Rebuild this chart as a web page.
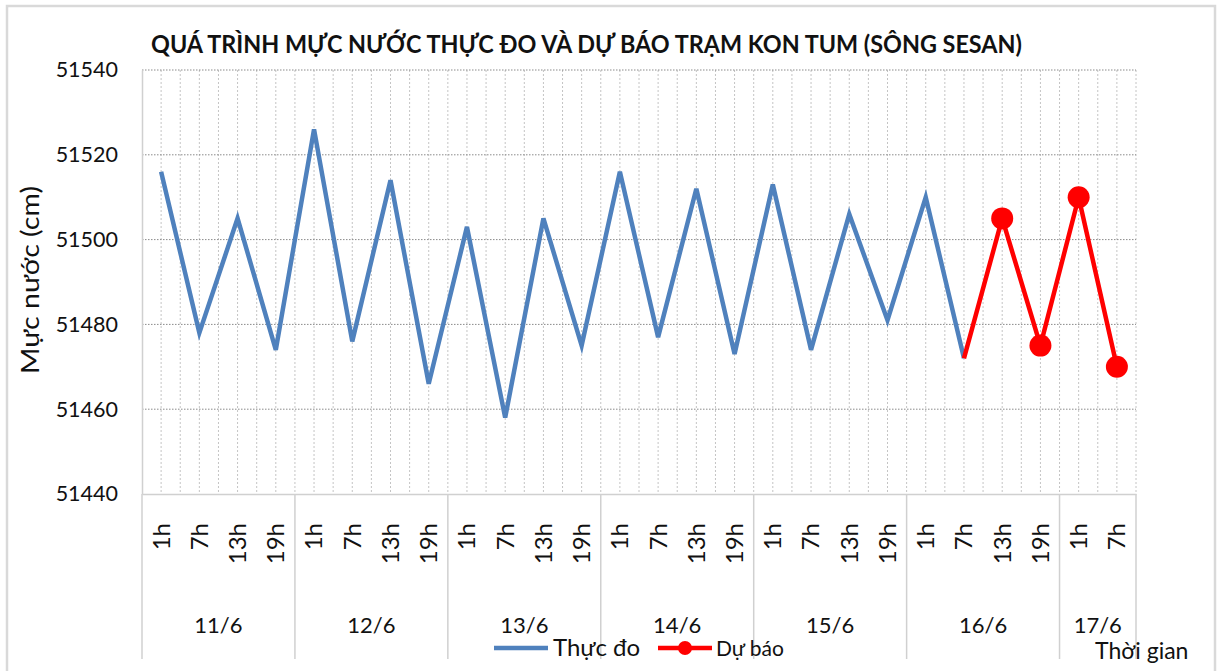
<!DOCTYPE html>
<html>
<head>
<meta charset="utf-8">
<script src="https://cdn.jsdelivr.net/npm/d3@7"></script>
<style>
  body { margin: 0; background: #fff; }
  text { font-family: Lato, 'Open Sans', sans-serif; fill: #111; }
</style>
</head>
<body>
<div id="chart"></div>
<script>
// categories
let dayLabels = ['11/6', '12/6', '13/6', '14/6', '15/6', '16/6', '17/6']
let hoursPerDay = [4, 4, 4, 4, 4, 4, 2]
let hourLabels = ['1h', '7h', '13h', '19h']

// values (cm)
let observed = [
  51516, 51478, 51505, 51474,
  51526, 51476, 51514, 51466,
  51503, 51458, 51505, 51475,
  51516, 51477, 51512, 51473,
  51513, 51474, 51506, 51481,
  51510, 51472
]
let forecastStart = 21
let forecast = [51472, 51505, 51475, 51510, 51470]

let yTicks = [51440, 51460, 51480, 51500, 51520, 51540]

let margin = { top: 70, left: 142, right: 83, bottom: 177 }
let width = 1219 - margin.left - margin.right
let height = 671 - margin.top - margin.bottom

let categories = []
dayLabels.forEach((day, i) => {
  for (let h = 0; h < hoursPerDay[i]; h++) {
    categories.push({ day: day, hour: hourLabels[h], i: categories.length })
  }
})

let obsPoints = observed.map((v, i) => ({ i: i, value: v }))
let fcPoints = forecast.map((v, i) => ({ i: forecastStart + i, value: v }))

let root = d3
  .select('#chart')
  .append('svg')
  .attr('width', 1219)
  .attr('height', 671)

// outer frame
root
  .append('rect')
  .attr('x', 7)
  .attr('y', 6)
  .attr('width', 1208)
  .attr('height', 700)
  .attr('fill', '#fff')
  .attr('stroke', '#d9d9d9')
  .attr('stroke-width', 2.5)

root
  .append('text')
  .attr('x', 151)
  .attr('y', 53)
  .attr('font-size', 25)
  .attr('font-weight', 'bold')
  .attr('textLength', 871)
  .attr('lengthAdjust', 'spacingAndGlyphs')
  .text('QUÁ TRÌNH MỰC NƯỚC THỰC ĐO VÀ DỰ BÁO TRẠM KON TUM (SÔNG SESAN)')

let svg = root
  .append('g')
  .attr('transform', 'translate(' + margin.left + ',' + margin.top + ')')

let xPositionScale = d3
  .scaleBand()
  .domain(categories.map(d => d.i))
  .range([0, width])
  .padding(0)

let yPositionScale = d3
  .scaleLinear()
  .domain([51440, 51540])
  .range([height, 0])

let bw = xPositionScale.bandwidth()
let cx = i => xPositionScale(i) + bw / 2

// vertical gridlines at every half category
let halfSteps = d3.range(1, categories.length * 2 + 1)
svg
  .selectAll('.v-grid')
  .data(halfSteps)
  .enter()
  .append('line')
  .attr('class', 'v-grid')
  .attr('x1', d => (d * bw) / 2)
  .attr('x2', d => (d * bw) / 2)
  .attr('y1', 0)
  .attr('y2', height)
  .attr('stroke', '#c4c4c4')
  .attr('stroke-width', 1)
  .attr('stroke-dasharray', '2,2')

// horizontal gridlines
svg
  .selectAll('.h-grid')
  .data(yTicks.slice(1))
  .enter()
  .append('line')
  .attr('class', 'h-grid')
  .attr('x1', 0)
  .attr('x2', width)
  .attr('y1', d => yPositionScale(d))
  .attr('y2', d => yPositionScale(d))
  .attr('stroke', '#8a8a8a')
  .attr('stroke-width', 1)
  .attr('stroke-dasharray', '1.5,1.5')

// y axis
let yAxis = d3
  .axisLeft(yPositionScale)
  .tickValues(yTicks)
  .tickSize(0)
  .tickPadding(24)
  .tickFormat(d3.format('d'))
svg
  .append('g')
  .attr('class', 'axis y-axis')
  .call(yAxis)
  .call(g => g.select('.domain').attr('stroke', '#d0d0d0').attr('stroke-width', 1.5))
  .call(g =>
    g
      .selectAll('text')
      .attr('font-size', 21.5)
      .attr('font-family', 'Lato')
      .attr('fill', '#111')
  )

// x axis (hours)
let xAxis = d3
  .axisBottom(xPositionScale)
  .tickSize(0)
  .tickFormat(i => categories[i].hour)
svg
  .append('g')
  .attr('class', 'axis x-axis')
  .attr('transform', 'translate(0,' + height + ')')
  .call(xAxis)
  .call(g => g.select('.domain').attr('stroke', '#d0d0d0').attr('stroke-width', 1.5))
  .call(g =>
    g
      .selectAll('text')
      .attr('font-size', 24)
      .attr('font-family', 'Lato')
      .attr('fill', '#111')
      .attr('text-anchor', 'end')
      .attr('transform', 'rotate(-90)')
      .attr('x', -29)
      .attr('y', 0)
      .attr('dy', '0.35em')
  )

// day groups
let dayStarts = []
let acc = 0
hoursPerDay.forEach(n => {
  dayStarts.push(acc)
  acc += n
})

svg
  .selectAll('.day-sep')
  .data(dayStarts.concat([categories.length]))
  .enter()
  .append('line')
  .attr('class', 'day-sep')
  .attr('x1', d => d * bw)
  .attr('x2', d => d * bw)
  .attr('y1', height)
  .attr('y2', 659 - margin.top)
  .attr('stroke', '#d0d0d0')
  .attr('stroke-width', 1.5)

svg
  .selectAll('.day-label')
  .data(dayLabels)
  .enter()
  .append('text')
  .attr('class', 'day-label')
  .attr('x', (d, i) => (dayStarts[i] + hoursPerDay[i] / 2) * bw)
  .attr('y', 633 - margin.top)
  .attr('text-anchor', 'middle')
  .attr('font-size', 22)
  .text(d => d)

// lines
let line = d3
  .line()
  .x(d => cx(d.i))
  .y(d => yPositionScale(d.value))

svg
  .append('path')
  .datum(obsPoints)
  .attr('d', line)
  .attr('fill', 'none')
  .attr('stroke', '#4f81bd')
  .attr('stroke-width', 4.5)
  .attr('stroke-linejoin', 'miter')

svg
  .append('path')
  .datum(fcPoints)
  .attr('d', line)
  .attr('fill', 'none')
  .attr('stroke', '#ff0000')
  .attr('stroke-width', 4.5)

svg
  .selectAll('.fc-dot')
  .data(fcPoints.slice(1))
  .enter()
  .append('circle')
  .attr('class', 'fc-dot')
  .attr('cx', d => cx(d.i))
  .attr('cy', d => yPositionScale(d.value))
  .attr('r', 11)
  .attr('fill', '#ff0000')

// y axis title
root
  .append('text')
  .attr('transform', 'translate(39,280) rotate(-90)')
  .attr('text-anchor', 'middle')
  .attr('font-size', 25)
  .attr('textLength', 188)
  .attr('lengthAdjust', 'spacingAndGlyphs')
  .attr('fill', '#222')
  .text('Mực nước (cm)')

// legend
let legend = root.append('g')
legend
  .append('line')
  .attr('x1', 494)
  .attr('x2', 548)
  .attr('y1', 648)
  .attr('y2', 648)
  .attr('stroke', '#4f81bd')
  .attr('stroke-width', 4.5)
legend
  .append('text')
  .attr('x', 553)
  .attr('y', 656)
  .attr('font-size', 24)
  .text('Thực đo')
legend
  .append('line')
  .attr('x1', 658)
  .attr('x2', 712)
  .attr('y1', 648)
  .attr('y2', 648)
  .attr('stroke', '#ff0000')
  .attr('stroke-width', 4.5)
legend
  .append('circle')
  .attr('cx', 685)
  .attr('cy', 648)
  .attr('r', 7)
  .attr('fill', '#ff0000')
legend
  .append('text')
  .attr('x', 716)
  .attr('y', 656)
  .attr('font-size', 21)
  .text('Dự báo')

root
  .append('text')
  .attr('x', 1095)
  .attr('y', 659)
  .attr('font-size', 23)
  .text('Thời gian')
</script>
</body>
</html>
